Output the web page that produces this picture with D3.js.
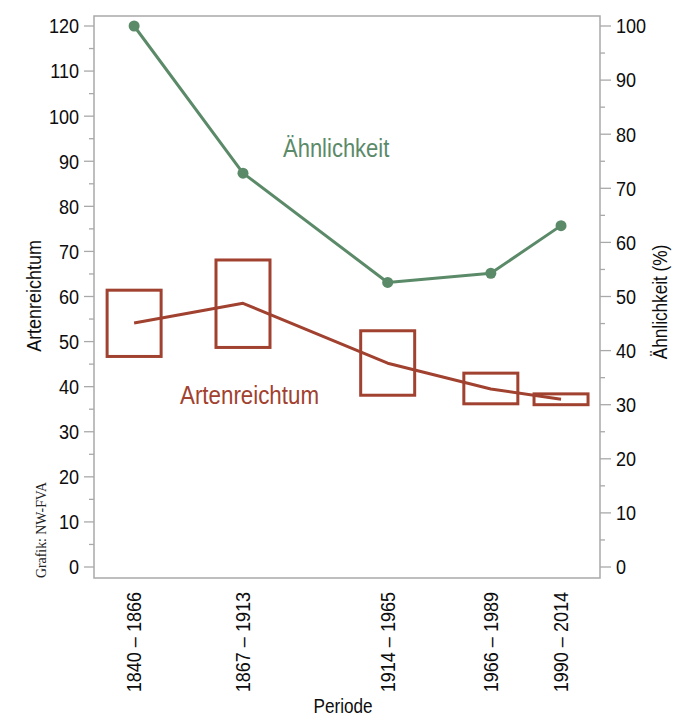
<!DOCTYPE html>
<html>
<head>
<meta charset="utf-8">
<script src="https://cdn.jsdelivr.net/npm/d3@7"></script>
<style>
  html, body { margin: 0; padding: 0; background: #fff; }
  svg { display: block; }
  .sans { font-family: "Liberation Sans", Arial, sans-serif; }
</style>
</head>
<body>
<svg id="chart" width="677" height="717"></svg>
<script>
// Sampling periods and their centre years on the time axis
const periods = ["1840 – 1866", "1867 – 1913", "1914 – 1965", "1966 – 1989", "1990 – 2014"];
const periodCentre = [1853, 1891, 1941.5, 1977.5, 2002];

// Species richness (Artenreichtum): mean and range per period
const richnessMean = [54.1, 58.5, 45.2, 39.5, 37.2];
const richnessLow  = [46.7, 48.7, 38.1, 36.2, 36.0];
const richnessHigh = [61.4, 68.1, 52.4, 43.0, 38.4];

// Similarity (Ähnlichkeit, %) to the first period
const similarity = [100, 72.8, 52.6, 54.3, 63.1];

// Axis ticks
const leftTicks = d3.range(0, 121, 10);
const leftMinor = d3.range(5, 121, 10);
const rightTicks = d3.range(0, 101, 10);
const rightMinor = d3.range(5, 101, 10);

const green = "#5b8a69";
const red = "#a1412f";
const frameGrey = "#a9a9a9";
const ink = "#0d0d0d";

// Horizontal squeeze giving the narrow sans look
const squeeze = 0.88;

const frame = { left: 94, right: 600, top: 16, bottom: 578 };

const svg = d3.select("#chart");

const x = d3.scaleLinear().domain([1839, 2015.6]).range([frame.left, frame.right]);
const yLeft = d3.scaleLinear().domain([0, 120]).range([567, 26]);
const yRight = d3.scaleLinear().domain([0, 100]).range([567, 26]);

// Place a condensed text element at (px, py), optionally rotated
function label(parent, px, py, txt, opts) {
  const o = Object.assign({ rotate: 0, size: 20, anchor: "start", dy: null, fill: ink }, opts);
  const t = parent.append("text")
    .attr("class", "sans")
    .attr("transform", `translate(${px},${py}) rotate(${o.rotate}) scale(${squeeze},1)`)
    .attr("text-anchor", o.anchor)
    .attr("font-size", o.size)
    .attr("fill", o.fill)
    .text(txt);
  if (o.dy) t.attr("dy", o.dy);
  return t;
}

// Frame
svg.append("rect")
  .attr("x", frame.left).attr("y", frame.top)
  .attr("width", frame.right - frame.left).attr("height", frame.bottom - frame.top)
  .attr("fill", "none").attr("stroke", frameGrey).attr("stroke-width", 1.5);

// Left axis
const gl = svg.append("g");
gl.selectAll("line.major").data(leftTicks).join("line")
  .attr("x1", frame.left - 10).attr("x2", frame.left)
  .attr("y1", d => yLeft(d)).attr("y2", d => yLeft(d))
  .attr("stroke", frameGrey).attr("stroke-width", 1.3);
gl.selectAll("line.minor").data(leftMinor).join("line")
  .attr("x1", frame.left - 5).attr("x2", frame.left)
  .attr("y1", d => yLeft(d)).attr("y2", d => yLeft(d))
  .attr("stroke", frameGrey).attr("stroke-width", 1.3);
leftTicks.forEach(v => label(gl, frame.left - 15, yLeft(v), v, { anchor: "end", dy: "0.36em", size: 20.5 }));

// Right axis
const gr = svg.append("g");
gr.selectAll("line.major").data(rightTicks).join("line")
  .attr("x1", frame.right).attr("x2", frame.right + 11)
  .attr("y1", d => yRight(d)).attr("y2", d => yRight(d))
  .attr("stroke", frameGrey).attr("stroke-width", 1.3);
gr.selectAll("line.minor").data(rightMinor).join("line")
  .attr("x1", frame.right).attr("x2", frame.right + 5)
  .attr("y1", d => yRight(d)).attr("y2", d => yRight(d))
  .attr("stroke", frameGrey).attr("stroke-width", 1.3);
rightTicks.forEach(v => label(gr, frame.right + 16, yRight(v), v, { anchor: "start", dy: "0.36em", size: 20.5 }));

// Period labels (rotated)
const gx = svg.append("g");
periods.forEach((p, i) => label(gx, x(periodCentre[i]), frame.bottom + 14, p,
  { rotate: -90, anchor: "end", dy: "0.36em", size: 20.5 }));

// Axis titles
label(svg, 41, 296, "Artenreichtum", { rotate: -90, anchor: "middle", size: 20.4 });
label(svg, 667, 302, "Ähnlichkeit (%)", { rotate: -90, anchor: "middle", size: 19.5 });
label(svg, 343, 713, "Periode", { anchor: "middle", size: 19.5 });

// Source credit
svg.append("text")
  .attr("transform", "translate(46,530) rotate(-90)")
  .attr("text-anchor", "middle")
  .attr("font-family", "'Liberation Serif', 'DejaVu Serif', serif")
  .attr("font-size", 13.8).attr("fill", "#222")
  .text("Grafik: NW-FVA");

// Richness range boxes
const boxW = 54;
svg.append("g").selectAll("rect").data(periods).join("rect")
  .attr("x", (d, i) => x(periodCentre[i]) - boxW / 2)
  .attr("y", (d, i) => yLeft(richnessHigh[i]))
  .attr("width", boxW)
  .attr("height", (d, i) => yLeft(richnessLow[i]) - yLeft(richnessHigh[i]))
  .attr("fill", "none").attr("stroke", red).attr("stroke-width", 3);

// Richness mean line
const richLine = d3.line()
  .x((d, i) => x(periodCentre[i]))
  .y(d => yLeft(d));
svg.append("path").datum(richnessMean)
  .attr("d", richLine)
  .attr("fill", "none").attr("stroke", red).attr("stroke-width", 3)
  .attr("stroke-linejoin", "round");

// Similarity line and points
const simLine = d3.line()
  .x((d, i) => x(periodCentre[i]))
  .y(d => yRight(d));
svg.append("path").datum(similarity)
  .attr("d", simLine)
  .attr("fill", "none").attr("stroke", green).attr("stroke-width", 3)
  .attr("stroke-linejoin", "round");
svg.append("g").selectAll("circle").data(similarity).join("circle")
  .attr("cx", (d, i) => x(periodCentre[i]))
  .attr("cy", d => yRight(d))
  .attr("r", 5.5).attr("fill", green);

// Series labels
label(svg, 283, 157, "Ähnlichkeit", { size: 25, fill: green });
label(svg, 180, 404, "Artenreichtum", { size: 25.4, fill: red });
</script>
</body>
</html>
